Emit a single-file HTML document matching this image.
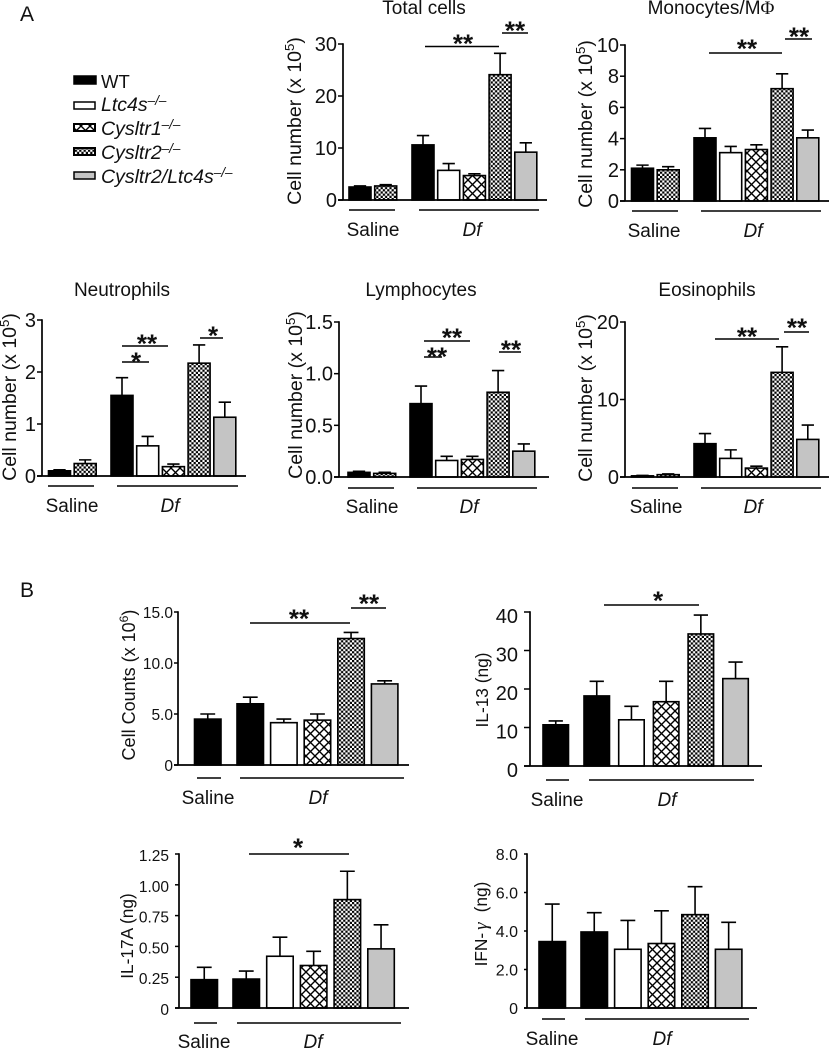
<!DOCTYPE html>
<html lang="en">
<head>
<meta charset="utf-8">
<title>Cell counts and cytokines by genotype</title>
<style>
html,body{margin:0;padding:0;background:#fff;width:829px;height:1050px;overflow:hidden}
svg{display:block}
text{font-family:"Liberation Sans",sans-serif;fill:#111}
</style>
</head>
<body>
<svg id="figure" xmlns="http://www.w3.org/2000/svg" width="829" height="1050" viewBox="0 0 829 1050">
  <defs>
    <pattern id="checks" patternUnits="userSpaceOnUse" width="4.4" height="4.4">
      <rect width="4.4" height="4.4" fill="#fff"/>
      <rect width="2.2" height="2.2" fill="#000"/>
      <rect x="2.2" y="2.2" width="2.2" height="2.2" fill="#000"/>
    </pattern>
    <pattern id="hatch" patternUnits="userSpaceOnUse" width="9" height="9">
      <rect width="9" height="9" fill="#fff"/>
      <path d="M-1,-1 L10,10 M-1,10 L10,-1" stroke="#000" stroke-width="1.4" fill="none"/>
    </pattern>
  </defs>

  <text x="20" y="21" font-size="21">A</text>
  <text x="20" y="597" font-size="21">B</text>

  <g>
    <rect x="74" y="76" width="22" height="8" fill="#000" stroke="#000" stroke-width="1.5"/>
    <text x="101" y="88" font-size="18.5">WT</text>
    <rect x="74" y="102" width="21" height="7" fill="#fff" stroke="#000" stroke-width="1.5"/>
    <text x="101" y="111" font-size="19.5" font-style="italic">Ltc4s<tspan font-size="13.5" dy="-6">–/–</tspan></text>
    <rect x="74" y="124" width="21" height="7" fill="url(#hatch)" stroke="#000" stroke-width="2"/>
    <text x="101" y="135" font-size="19.5" font-style="italic">Cysltr1<tspan font-size="13.5" dy="-6">–/–</tspan></text>
    <rect x="74" y="148" width="21" height="7" fill="url(#checks)" stroke="#000" stroke-width="2"/>
    <text x="101" y="159" font-size="19.5" font-style="italic">Cysltr2<tspan font-size="13.5" dy="-6">–/–</tspan></text>
    <rect x="74" y="172" width="21" height="7" fill="#c4c4c4" stroke="#000" stroke-width="1.5"/>
    <text x="101" y="183" font-size="19.5" font-style="italic">Cysltr2/Ltc4s<tspan font-size="13.5" dy="-6">–/–</tspan></text>
  </g>
</svg>

<script>
// ---------- categories ----------
var salineCategoriesA = ['WT', 'Cysltr2'];
var salineCategoriesB = ['WT'];
var dfCategories = ['WT', 'Ltc4s', 'Cysltr1', 'Cysltr2', 'Cysltr2/Ltc4s'];

// ---------- tick labels ----------
var totalTicks = ['0', '10', '20', '30'];
var monoTicks = ['0', '2', '4', '6', '8', '10'];
var neutTicks = ['0', '1', '2', '3'];
var lymphTicks = ['0.0', '0.5', '1.0', '1.5'];
var eosTicks = ['0', '10', '20'];
var countsTicks = ['0', '5.0', '10.0', '15.0'];
var il13Ticks = ['0', '10', '20', '30', '40'];
var il17Ticks = ['0', '0.25', '0.50', '0.75', '1.00', '1.25'];
var ifnTicks = ['0', '2.0', '4.0', '6.0', '8.0'];

// ---------- values (saline group) and (Df group), with upper error magnitudes ----------
var totalSaline = [2.5, 2.7];
var totalSalineErr = [0.2, 0.25];
var totalDf = [10.6, 5.7, 4.7, 24.1, 9.2];
var totalDfErr = [1.8, 1.3, 0.35, 4.1, 1.8];

var monoSaline = [2.1, 2.0];
var monoSalineErr = [0.2, 0.2];
var monoDf = [4.05, 3.1, 3.3, 7.2, 4.05];
var monoDfErr = [0.6, 0.4, 0.3, 0.95, 0.5];

var neutSaline = [0.1, 0.24];
var neutSalineErr = [0.02, 0.07];
var neutDf = [1.55, 0.58, 0.18, 2.17, 1.13];
var neutDfErr = [0.34, 0.18, 0.05, 0.35, 0.29];

var lymphSaline = [0.045, 0.035];
var lymphSalineErr = [0.01, 0.01];
var lymphDf = [0.71, 0.16, 0.17, 0.82, 0.25];
var lymphDfErr = [0.17, 0.04, 0.03, 0.21, 0.07];

var eosSaline = [0.15, 0.3];
var eosSalineErr = [0.05, 0.1];
var eosDf = [4.3, 2.4, 1.15, 13.5, 4.85];
var eosDfErr = [1.3, 1.1, 0.25, 3.3, 1.85];

var countsSaline = [4.5];
var countsSalineErr = [0.5];
var countsDf = [6.0, 4.15, 4.4, 12.4, 7.95];
var countsDfErr = [0.65, 0.35, 0.6, 0.6, 0.3];

var il13Saline = [10.7];
var il13SalineErr = [1.0];
var il13Df = [18.2, 12.0, 16.7, 34.3, 22.7];
var il13DfErr = [3.8, 3.5, 5.3, 4.9, 4.3];

var il17Saline = [0.23];
var il17SalineErr = [0.1];
var il17Df = [0.235, 0.42, 0.345, 0.88, 0.48];
var il17DfErr = [0.065, 0.155, 0.115, 0.23, 0.195];

var ifnSaline = [3.45];
var ifnSalineErr = [1.95];
var ifnDf = [3.95, 3.05, 3.35, 4.85, 3.05];
var ifnDfErr = [1.0, 1.5, 1.7, 1.45, 1.4];

// ---------- fills per genotype ----------
var genotypeFills = {
  'WT': '#000',
  'Ltc4s': '#fff',
  'Cysltr1': 'url(#hatch)',
  'Cysltr2': 'url(#checks)',
  'Cysltr2/Ltc4s': '#c4c4c4'
};

// ---------- panel layout (frame geometry only) ----------
var panels = [
  { key:'total-cells', title:'Total cells', titleX:424, titleY:14, ticks:totalTicks,
    saline:totalSaline, salineErr:totalSalineErr, df:totalDf, dfErr:totalDfErr, salineCats:salineCategoriesA,
    axisX:343, y0:200, yTop:44, tickL:338, axisR:547, sx:349, dx:412, step:25.7, w:22,
    gy:210, sl:[349,395], dl:[419,539], sLx:373, dLx:472, lY:236,
    ylabel:'Cell number (x 10', sup:'5', ylX:301, ylY:121, ylF:19.5, tF:20, tR:337, tDy:7,
    sig:[[425,499,46.5,463,'**',39],[502,528,33,515,'**',26]] },
  { key:'monocytes', title:'Monocytes/M', titleSym:'Φ', titleX:711, titleY:14, ticks:monoTicks,
    saline:monoSaline, salineErr:monoSalineErr, df:monoDf, dfErr:monoDfErr, salineCats:salineCategoriesA,
    axisX:625, y0:201, yTop:45, tickL:620, axisR:829, sx:631.5, dx:694, step:25.7, w:22,
    gy:211, sl:[632,678], dl:[701,821], sLx:654, dLx:753, lY:237,
    ylabel:'Cell number (x 10', sup:'5', ylX:592, ylY:124, ylF:19.5, tF:20, tR:619, tDy:7,
    sig:[[709,782,53,747,'**',44],[785,812,39,799,'**',32]] },
  { key:'neutrophils', title:'Neutrophils', titleX:122, titleY:296, ticks:neutTicks,
    saline:neutSaline, salineErr:neutSalineErr, df:neutDf, dfErr:neutDfErr, salineCats:salineCategoriesA,
    axisX:42, y0:476, yTop:320, tickL:37, axisR:246, sx:48.5, dx:111, step:25.7, w:22,
    gy:486, sl:[48,94], dl:[117,238], sLx:72, dLx:170, lY:512,
    ylabel:'Cell number (x 10', sup:'5', ylX:16, ylY:397, ylF:19.5, tF:20, tR:36, tDy:7,
    sig:[[122,168,346,147,'**',339],[122,149,362,136,'*',357],[200,223,338,213,'*',331]] },
  { key:'lymphocytes', title:'Lymphocytes', titleX:421, titleY:296, ticks:lymphTicks,
    saline:lymphSaline, salineErr:lymphSalineErr, df:lymphDf, dfErr:lymphDfErr, salineCats:salineCategoriesA,
    axisX:339, y0:477, yTop:322, tickL:334, axisR:549, sx:348, dx:410, step:25.7, w:22,
    gy:488, sl:[348,394], dl:[417,537], sLx:372, dLx:469, lY:513,
    ylabel:'Cell number (x 10', sup:'5', ylX:302, ylY:395, ylF:19.5, tF:20, tR:333, tDy:7,
    sig:[[424,470,341,452,'**',333],[424,442,357,437,'**',352],[499,521,352,511,'**',345]] },
  { key:'eosinophils', title:'Eosinophils', titleX:707, titleY:296, ticks:eosTicks,
    saline:eosSaline, salineErr:eosSalineErr, df:eosDf, dfErr:eosDfErr, salineCats:salineCategoriesA,
    axisX:625, y0:477, yTop:322, tickL:620, axisR:829, sx:631.5, dx:694, step:25.7, w:22,
    gy:488, sl:[632,678], dl:[701,821], sLx:656, dLx:753, lY:513,
    ylabel:'Cell number (x 10', sup:'5', ylX:592, ylY:398, ylF:19.5, tF:20, tR:619, tDy:7,
    sig:[[715,779,339,747,'**',332],[784,809,332,797,'**',323]] },
  { key:'cell-counts', title:'', ticks:countsTicks,
    saline:countsSaline, salineErr:countsSalineErr, df:countsDf, dfErr:countsDfErr, salineCats:salineCategoriesB,
    axisX:178, y0:765, yTop:612, tickL:174, axisR:409, sx:194.5, dx:237, step:33.6, w:26.5,
    gy:778, sl:[197,221], dl:[240,404], sLx:208, dLx:318, lY:804,
    ylabel:'Cell Counts (x 10', sup:'6', ylX:135, ylY:685, ylF:18, tF:15.5, tR:173, tDy:6,
    sig:[[250,350,623,299,'**',614],[351,386,608,369,'**',599]] },
  { key:'il-13', title:'', ticks:il13Ticks,
    saline:il13Saline, salineErr:il13SalineErr, df:il13Df, dfErr:il13DfErr, salineCats:salineCategoriesB,
    axisX:530, y0:766, yTop:612, tickL:524, axisR:762, sx:543, dx:584, step:34.7, w:25.5,
    gy:780, sl:[546,569], dl:[589,754], sLx:557, dLx:667, lY:806,
    ylabel:'IL-13 (ng)', ylX:488, ylY:690, ylF:17.3, tF:20, tR:518, tDy:11,
    sig:[[604,699,605,658,'*',596]] },
  { key:'il-17a', title:'', ticks:il17Ticks,
    saline:il17Saline, salineErr:il17SalineErr, df:il17Df, dfErr:il17DfErr, salineCats:salineCategoriesB,
    axisX:179, y0:1008, yTop:854, tickL:175, axisR:409, sx:191, dx:233, step:33.7, w:26.5,
    gy:1023, sl:[194,217], dl:[237,401], sLx:204, dLx:313, lY:1048,
    ylabel:'IL-17A (ng)', ylX:133, ylY:936, ylF:17.3, tF:15.5, tR:169, tDy:7,
    sig:[[249,349,854,298,'*',843]] },
  { key:'ifn-gamma', title:'', ticks:ifnTicks,
    saline:ifnSaline, salineErr:ifnSalineErr, df:ifnDf, dfErr:ifnDfErr, salineCats:salineCategoriesB,
    axisX:527, y0:1008, yTop:854, tickL:524, axisR:757, sx:539, dx:581, step:33.6, w:26.5,
    gy:1019, sl:[542,565], dl:[585,749], sLx:552, dLx:662, lY:1045,
    ylabel:'IFN-', ylItalic:'γ', ylTail:'(ng)', ylX:487, ylY:924, ylF:17.3, tF:16, tR:518, tDy:6,
    sig:[] }
];

// ---------- drawing ----------
var svg = document.getElementById('figure');
var NS = 'http://www.w3.org/2000/svg';

function make(parent, tag, attrs, content) {
  var node = document.createElementNS(NS, tag);
  for (var k in attrs) { node.setAttribute(k, attrs[k]); }
  if (content !== undefined) { node.textContent = content; }
  parent.appendChild(node);
  return node;
}

function yScale(p) {
  var max = parseFloat(p.ticks[p.ticks.length - 1]);
  return function (v) { return p.y0 - (v / max) * (p.y0 - p.yTop); };
}

function drawBars(g, p, y, cats, values, errs, startX, groupName) {
  values.forEach(function (v, i) {
    var x = startX + i * p.step;
    var cx = x + p.w / 2;
    var top = y(v + errs[i]);
    var capHalf = p.w * 0.28;

    var err = make(g, 'path', {
      d: 'M' + cx + ',' + y(v) + ' V' + top + ' M' + (cx - capHalf) + ',' + top + ' H' + (cx + capHalf),
      stroke: '#000', 'stroke-width': 1.6, fill: 'none'
    });
    
    

    var bar = make(g, 'rect', {
      x: x, y: y(v), width: p.w, height: Math.max(0, p.y0 - y(v)),
      fill: genotypeFills[cats[i]], stroke: '#000', 'stroke-width': 1.6
    });
    
    
  });
}

panels.forEach(function (p) {
  var y = yScale(p);
  var g = make(svg, 'g', {});
  
  

  if (p.title) {
    var title = make(g, 'text', { x: p.titleX, y: p.titleY, 'font-size': 19, 'text-anchor': 'middle' }, p.title);
    if (p.titleSym) {
      make(title, 'tspan', { 'font-family': '"Liberation Serif",serif' }, p.titleSym);
    }
    
    
  }

  // y-axis label
  var yl = make(g, 'text', {
    x: p.ylX, y: p.ylY, 'font-size': p.ylF, 'text-anchor': 'middle',
    transform: 'rotate(-90 ' + p.ylX + ' ' + p.ylY + ')'
  }, p.ylabel);
  if (p.sup) {
    make(yl, 'tspan', { 'font-size': p.ylF * 0.68, dy: -7 }, p.sup);
    make(yl, 'tspan', { dy: 7 }, ')');
  }
  if (p.ylItalic) {
    make(yl, 'tspan', { 'font-style': 'italic', 'font-family': '"Liberation Serif",serif', dx: 3, 'font-size': p.ylF * 1.1 }, p.ylItalic);
    make(yl, 'tspan', { dx: 10 }, p.ylTail);
  }
  
  

  // bars first so baseline overlays them
  drawBars(g, p, y, p.salineCats, p.saline, p.salineErr, p.sx, 'saline');
  drawBars(g, p, y, dfCategories, p.df, p.dfErr, p.dx, 'df');

  // axes
  var yAxis = make(g, 'line', { x1: p.axisX, x2: p.axisX, y1: p.yTop - 0.8, y2: p.y0, stroke: '#000', 'stroke-width': 1.7 });
  
  

  var xAxis = make(g, 'line', { x1: p.tickL, x2: p.axisR, y1: p.y0, y2: p.y0, stroke: '#000', 'stroke-width': 1.7 });
  
  

  p.ticks.forEach(function (label) {
    var ty = y(parseFloat(label));
    var tick = make(g, 'line', { x1: p.tickL, x2: p.axisX, y1: ty, y2: ty, stroke: '#000', 'stroke-width': 1.5 });
    
    

    var tl = make(g, 'text', { x: p.tR, y: ty + p.tDy, 'font-size': p.tF, 'text-anchor': 'end' }, label);
    
    
  });

  // group lines and labels
  var sLine = make(g, 'line', { x1: p.sl[0], x2: p.sl[1], y1: p.gy, y2: p.gy, stroke: '#000', 'stroke-width': 1.4 });
  
  

  var dLine = make(g, 'line', { x1: p.dl[0], x2: p.dl[1], y1: p.gy, y2: p.gy, stroke: '#000', 'stroke-width': 1.4 });
  
  

  var sLabel = make(g, 'text', { x: p.sLx, y: p.lY, 'font-size': 19, 'text-anchor': 'middle' }, 'Saline');
  
  

  var dLabel = make(g, 'text', { x: p.dLx, y: p.lY, 'font-size': 19, 'font-style': 'italic', 'text-anchor': 'middle' }, 'Df');
  
  

  // significance annotations
  p.sig.forEach(function (s) {
    var sigLine = make(g, 'line', { x1: s[0], x2: s[1], y1: s[2], y2: s[2], stroke: '#000', 'stroke-width': 1.4 });
    
    

    var star = make(g, 'text', { x: s[3], y: s[5] + 13.5, 'font-size': 26, 'font-weight': 'bold', 'text-anchor': 'middle' }, s[4]);
    
    
  });
});
</script>
</body>
</html>
